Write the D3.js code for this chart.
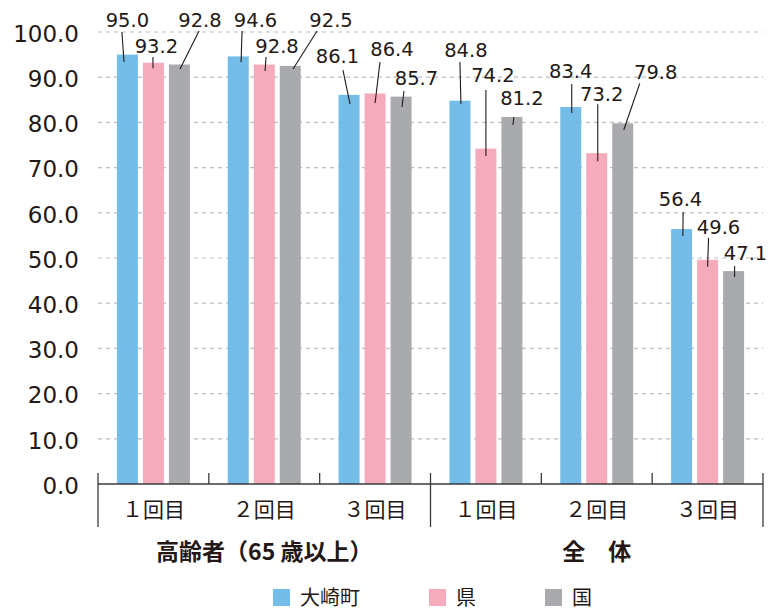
<!DOCTYPE html>
<html lang="ja">
<head>
  <meta charset="UTF-8">
  <title>接種率</title>
  <style>
    body { margin: 0; background: #fff; }
    text { fill: #231815; }
  </style>
</head>
<body>
  <svg id="svg" width="776" height="610"></svg>

  <script src="https://d3js.org/d3.v7.min.js"></script>
  <script>
    // ---- data ----
    const groupNames = ['高齢者（65 歳以上）', '全　体']
    const doseNames = ['１回目', '２回目', '３回目']
    const seriesNames = ['大崎町', '県', '国']
    const town = [95.0, 94.6, 86.1, 84.8, 83.4, 56.4]
    const pref = [93.2, 92.8, 86.4, 74.2, 73.2, 49.6]
    const nation = [92.8, 92.5, 85.7, 81.2, 79.8, 47.1]
    const yTicks = [0, 10, 20, 30, 40, 50, 60, 70, 80, 90, 100]

    const colors = ['#74bde8', '#f5abbc', '#a9aaae']

    // label placement (px): [label dx, label dy from bar top, leader start dx, leader start gap, leader end dx, leader end dy]
    const labelLayout = [
      [[0, -27.6, -5.5, 5, -3.4, 7.4], [3, -9.7, -3.5, 4, -0.4, 5.5], [20.6, -37.5, -1, 4, 0.6, 4.5]],
      [[17.3, -29.4, -13.5, 4, 2.8, 5.6], [12.8, -11.5, -11, 4, 0.8, 6.5], [40.8, -38.9, -14, 4, 2.8, 3.1]],
      [[-11.6, -31.8, 5.5, 7, 0.9, 9.2], [16.9, -37.5, -12, 6, 0, 9.5], [15.4, -11.6, -12.5, 6, 0.9, 10.4]],
      [[6, -43.7, -6, 5, 1, 3.3], [7, -66.6, -7, 8, 0, 7.4], [10, -12, -8, 12, 1, 8]],
      [[0, -29, 1, 6, 1, 6], [5, -52, -4, 3, 1, 8], [33, -44, -16, 4, 1, 6.7]],
      [[-1, -23, 2.5, 6, 1.3, 7], [11, -26, -10, 4, 0, 7], [12, -11, -11, 6, 1, 6]]
    ]

    const values = [town, pref, nation]
    const cats = []
    groupNames.forEach((g, gi) => doseNames.forEach((d, di) => cats.push({ group: gi, dose: d, i: cats.length })))

    const plotLeft = 98, plotRight = 763, plotTop = 32, plotBottom = 484
    const svg = d3.select('#svg')
    const numFont = 'DejaVu Sans'
    const jpFont = '"Noto Sans CJK JP", sans-serif'

    const x0 = d3.scaleBand().domain(d3.range(cats.length)).range([plotLeft, plotRight])
    const pi = 5 / 26
    const po = (x0.bandwidth() / 26 - 3 + pi) / 2
    const x1 = d3.scaleBand().domain(d3.range(3)).range([0, x0.bandwidth()])
      .paddingInner(pi).paddingOuter(po)
    const y = d3.scaleLinear().domain([0, 100]).range([plotBottom, plotTop])

    // grid
    svg.append('g')
      .selectAll('line')
      .data(yTicks.filter(t => t > 0))
      .enter()
      .append('line')
      .attr('x1', plotLeft).attr('x2', plotRight)
      .attr('y1', d => y(d)).attr('y2', d => y(d))
      .attr('stroke', '#bdbdbd')
      .attr('stroke-width', 1.2)
      .attr('stroke-dasharray', '4,4')

    // y axis labels
    const yAxis = svg.append('g')
      .attr('transform', `translate(${plotLeft},0)`)
      .call(d3.axisLeft(y).tickValues(yTicks).tickFormat(d3.format('.1f')).tickSize(0).tickPadding(19))
    yAxis.select('.domain').remove()
    yAxis.selectAll('text')
      .style('font-family', numFont)
      .style('font-size', '23px')
      .attr('dy', '0.4em')
      .attr('fill', '#231815')

    // bars
    const bars = []
    cats.forEach(c => values.forEach((s, si) => bars.push({ c: c, si: si, v: s[c.i] })))
    const bx = d => x0(d.c.i) + x1(d.si) + x1.bandwidth() / 2

    svg.append('g')
      .selectAll('rect')
      .data(bars)
      .enter()
      .append('rect')
      .attr('x', d => x0(d.c.i) + x1(d.si))
      .attr('width', x1.bandwidth())
      .attr('y', d => y(d.v))
      .attr('height', d => y(0) - y(d.v))
      .attr('fill', d => colors[d.si])

    // value labels with leader lines
    const lab = svg.append('g')
    lab.selectAll('line')
      .data(bars)
      .enter()
      .append('line')
      .attr('x1', d => { const L = labelLayout[d.c.i][d.si]; return bx(d) + L[0] + L[2] })
      .attr('y1', d => { const L = labelLayout[d.c.i][d.si]; return y(d.v) + L[1] + L[3] })
      .attr('x2', d => { const L = labelLayout[d.c.i][d.si]; return bx(d) + L[4] })
      .attr('y2', d => { const L = labelLayout[d.c.i][d.si]; return y(d.v) + L[5] })
      .attr('stroke', '#231815')
      .attr('stroke-width', 1.1)
    lab.selectAll('text')
      .data(bars)
      .enter()
      .append('text')
      .text(d => d3.format('.1f')(d.v))
      .attr('x', d => bx(d) + labelLayout[d.c.i][d.si][0])
      .attr('y', d => y(d.v) + labelLayout[d.c.i][d.si][1])
      .attr('text-anchor', 'middle')
      .style('font-family', numFont)
      .style('font-size', '19.5px')

    // category axis
    const ax = svg.append('g').attr('stroke', '#3a3a3a')
    ax.append('line')
      .attr('x1', plotLeft).attr('x2', plotRight)
      .attr('y1', plotBottom).attr('y2', plotBottom)
      .attr('stroke-width', 1.5)
    const edges = d3.range(cats.length + 1)
    ax.selectAll('.tk')
      .data(edges)
      .enter()
      .append('line')
      .attr('x1', d => d < cats.length ? x0(d) : plotRight)
      .attr('x2', d => d < cats.length ? x0(d) : plotRight)
      .attr('y1', plotBottom - 11)
      .attr('y2', d => d % 3 === 0 ? plotBottom + 43 : plotBottom)
      .attr('stroke-width', 1.3)

    svg.append('g')
      .selectAll('text')
      .data(cats)
      .enter()
      .append('text')
      .text(d => d.dose)
      .attr('x', d => x0(d.i) + x0.bandwidth() / 2)
      .attr('y', 517)
      .attr('text-anchor', 'middle')
      .style('font-family', jpFont)
      .style('font-size', '21px')

    svg.append('g')
      .selectAll('text')
      .data(groupNames)
      .enter()
      .append('text')
      .text(d => d)
      .attr('x', (d, i) => (x0(i * 3) + (i === 1 ? plotRight : x0(3))) / 2)
      .attr('y', 560)
      .attr('text-anchor', 'middle')
      .style('font-family', jpFont)
      .style('font-size', '23px')
      .style('font-weight', 'bold')

    // legend
    const legend = svg.append('g')
    let lx = 273
    seriesNames.forEach((name, i) => {
      legend.append('rect')
        .attr('x', lx).attr('y', 589)
        .attr('width', 17).attr('height', 17)
        .attr('fill', colors[i])
      const t = legend.append('text')
        .text(name)
        .attr('x', lx + 27).attr('y', 605)
        .style('font-family', jpFont)
        .style('font-size', '20px')
      lx += 27 + t.node().getComputedTextLength() + 69
    })
  </script>
</body>
</html>
